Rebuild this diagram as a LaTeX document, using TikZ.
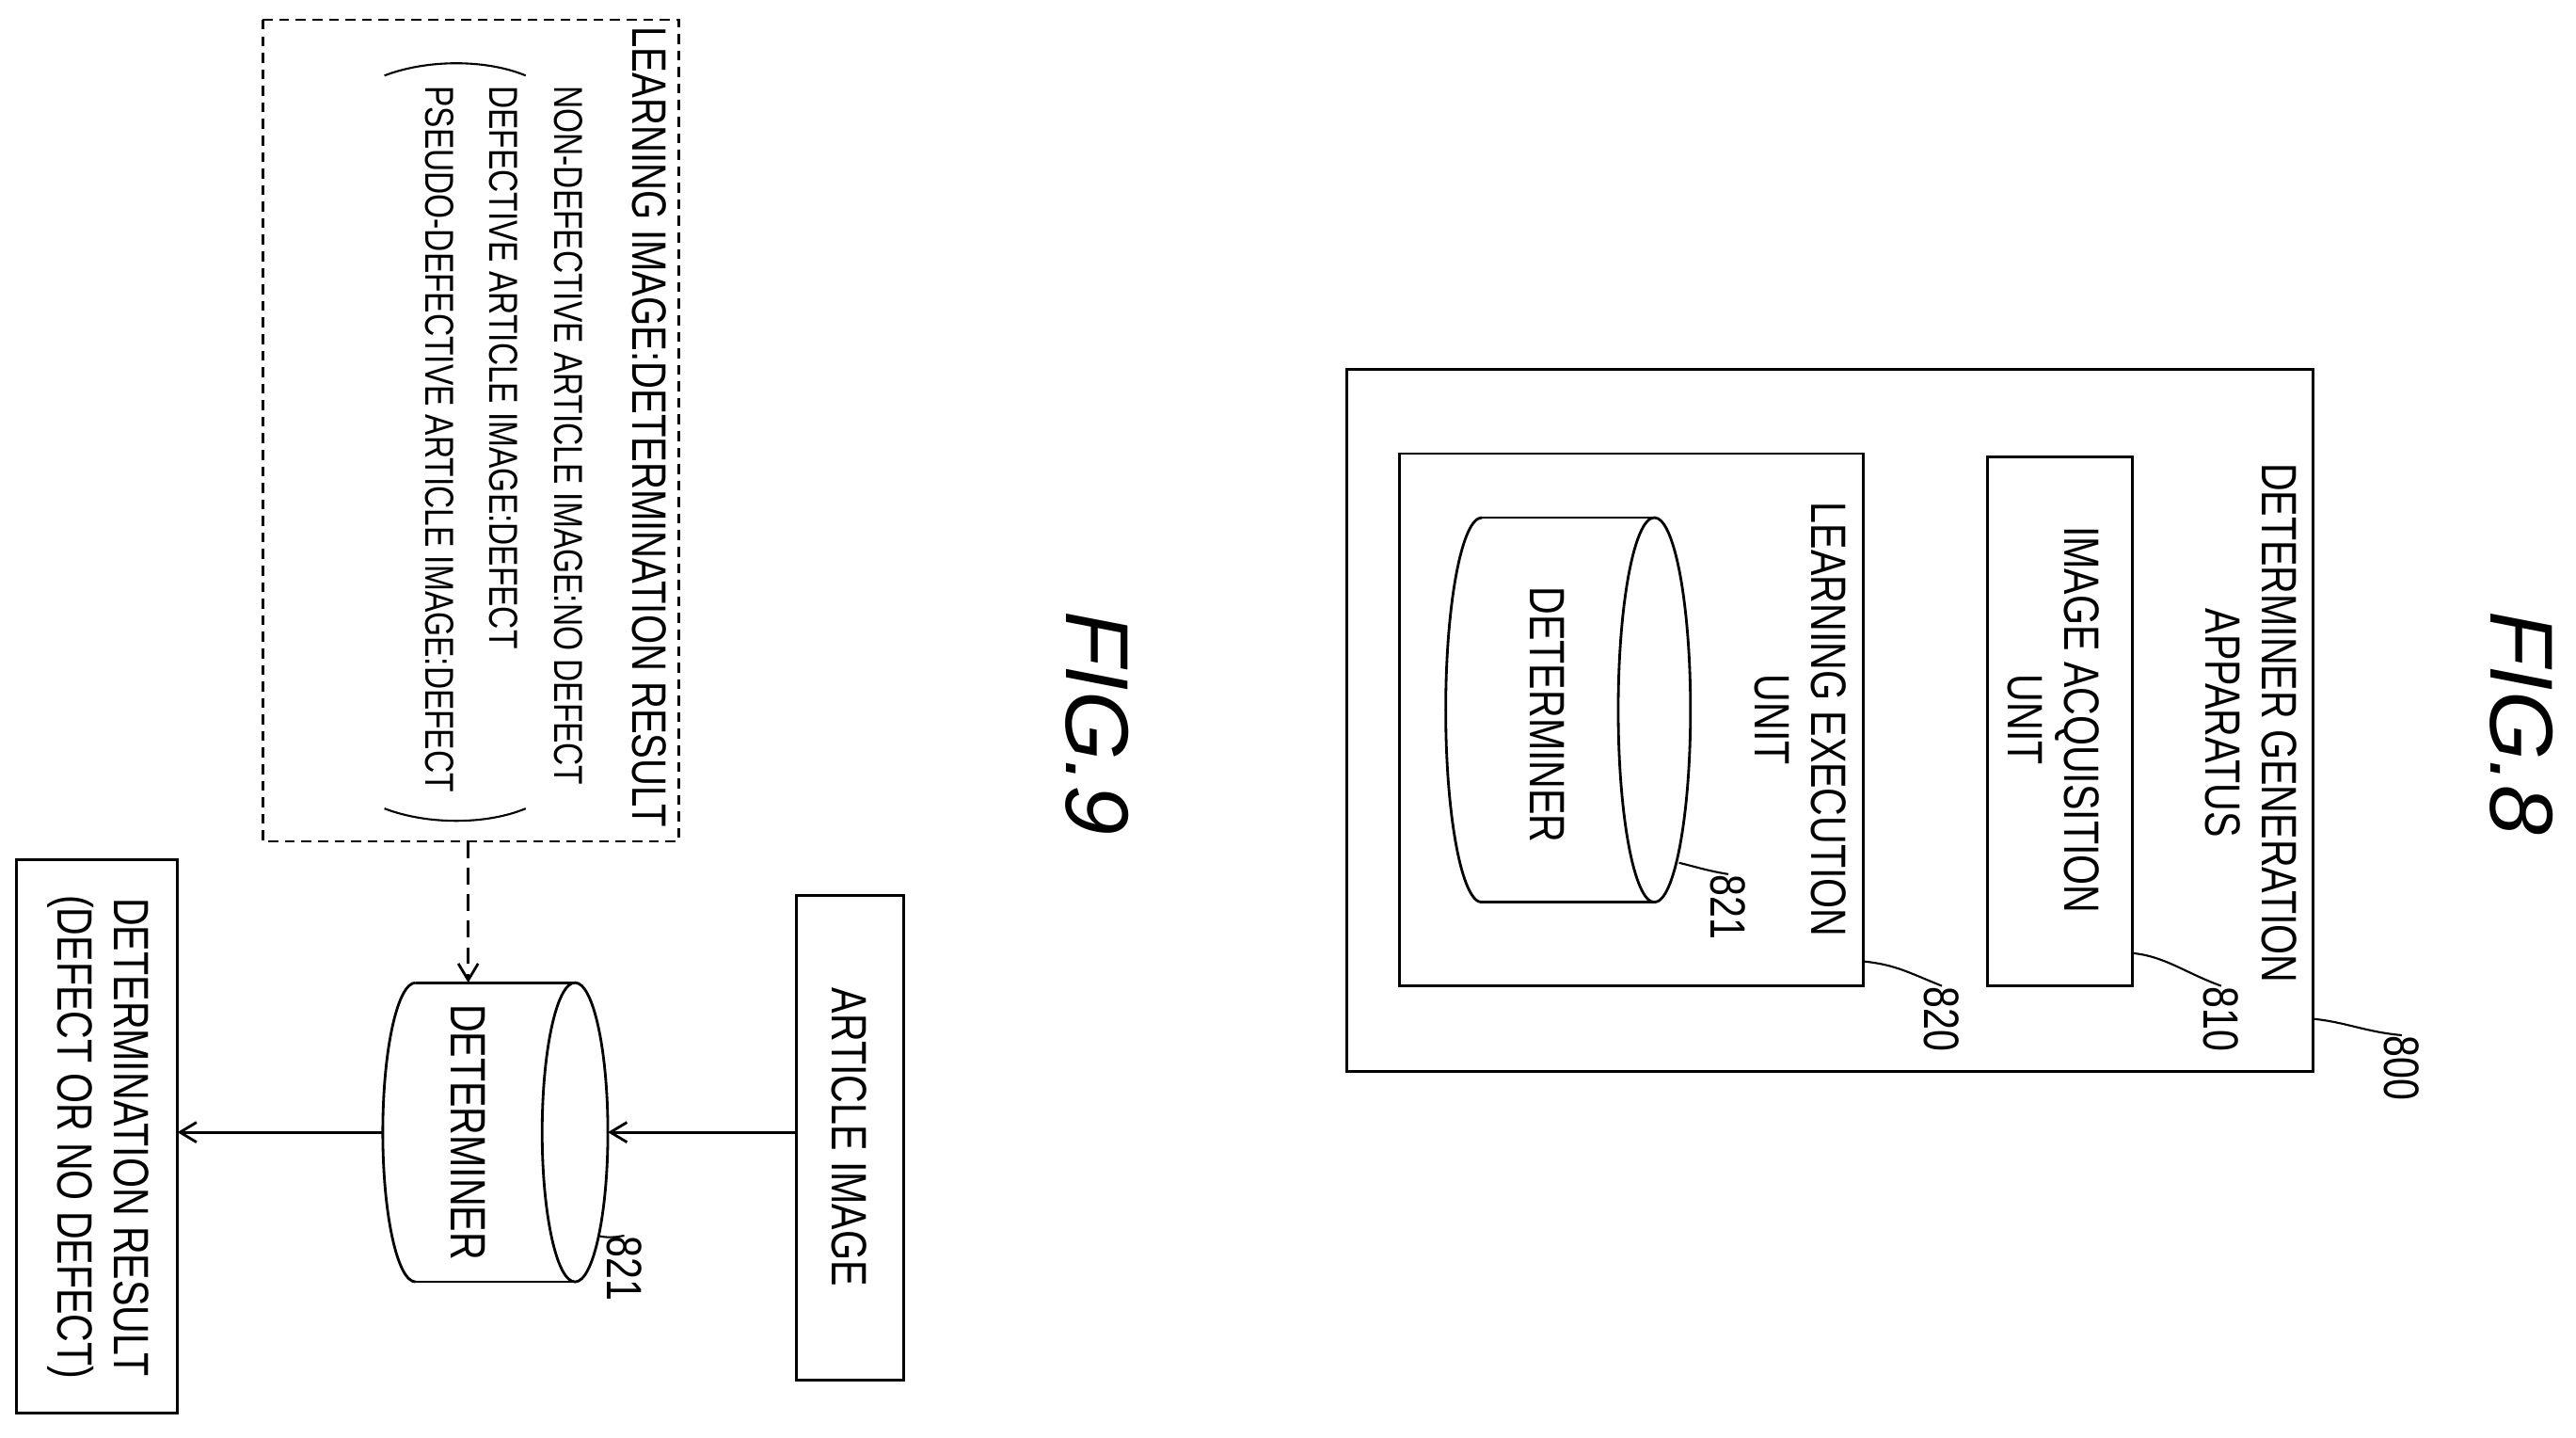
\documentclass[tikz,border=0pt]{standalone}
\usepackage{fontspec}
\setmainfont{Liberation Sans}[FakeStretch=0.78]
\newfontfamily\figfont{Liberation Sans}
\usetikzlibrary{arrows.meta}
\begin{document}
\begin{tikzpicture}[x=0.01746cm,y=-0.01746cm,
  box/.style={draw,line width=0.8pt},
  txt/.style={rotate=-90,align=center,font=\fontsize{15}{17}\selectfont,inner sep=0pt},
  lst/.style={rotate=-90,align=left,font=\fontsize{12.2}{19.5}\selectfont,inner sep=0pt},
  lbl/.style={rotate=-90,font=\fontsize{15}{17}\selectfont,inner sep=0pt},
  lead/.style={line width=0.6pt},
  arr/.style={line width=0.8pt,-{Straight Barb[length=5pt,width=6pt]}},
  title/.style={rotate=-90,font=\figfont\itshape\fontsize{27}{27}\selectfont,inner sep=0pt}]
\useasboundingbox (0,0) rectangle (1568,875);
% ---------- FIG. 8 ----------
\draw[box] (820,225) rectangle (1408,652);
\draw[box] (1210,278) rectangle (1298,600);
\draw[box] (852,276) rectangle (1134,600);
\node[txt] (appt) at (1370,440) {DETERMINER GENERATION\\APPARATUS};
\node[txt] (acqt) at (1250,438) {IMAGE ACQUISITION\\UNIT};
\node[txt] (lrnt) at (1096,438) {LEARNING EXECUTION\\UNIT};
% cylinder 821 (fig 8)
\draw[line width=0.8pt] (902,315) -- (1007,315) (902,549) -- (1007,549);
\draw[line width=0.8pt] (902,315) arc[start angle=90,end angle=270,x radius=0.384cm,y radius=2.043cm];
\draw[line width=0.8pt] (1007,432) ellipse[x radius=0.384cm,y radius=2.043cm];
\node[txt] (detA) at (942,435) {DETERMINER};
\coordinate (cylA) at (1022,525);
% labels
\node[lbl] (l800) at (1462,650) {800};
\node[lbl] (l810) at (1352,620) {810};
\node[lbl] (l820) at (1182,620) {820};
\node[lbl] (l821a) at (1052,552) {821};
\draw[lead] (1408,620) .. controls (1428,622) and (1440,628) .. (l800.west);
\draw[lead] (1298,580) .. controls (1318,582) and (1330,592) .. (l810.west);
\draw[lead] (1134,585) .. controls (1154,587) and (1162,592) .. (l820.west);
\draw[lead] (cylA) .. controls (1034,528) and (1040,530) .. (l821a.west);
\node[title] (fig8) at (1535,440) {FIG.8};
% ---------- FIG. 9 ----------
\draw[box,dashed,dash pattern=on 3pt off 2pt] (160,12) rectangle (413,512);
\node[lst,anchor=west,font=\fontsize{14.6}{17}\selectfont] (l1) at (395,16) {LEARNING IMAGE:DETERMINATION RESULT};
\node[lst,anchor=north west] (l2) at (355,52) {NON-DEFECTIVE ARTICLE IMAGE:NO DEFECT\\DEFECTIVE ARTICLE IMAGE:DEFECT\\PSEUDO-DEFECTIVE ARTICLE IMAGE:DEFECT};
\draw[line width=0.6pt] (234,46) .. controls (260,36) and (296,36) .. (320,46);
\draw[line width=0.6pt] (234,492) .. controls (260,502) and (296,502) .. (320,492);
\coordinate (lbox) at (285,512);
% cylinder 821 (fig 9)
\draw[line width=0.8pt] (253,598) -- (350,598) (253,780) -- (350,780);
\draw[line width=0.8pt] (253,598) arc[start angle=90,end angle=270,x radius=0.349cm,y radius=1.589cm];
\draw[line width=0.8pt] (350,689) ellipse[x radius=0.349cm,y radius=1.589cm];
\node[txt] (detB) at (285,689) {DETERMINER};
\coordinate (cylBtop) at (285,598);
\coordinate (cylBright) at (370,689);
\coordinate (cylBleft) at (233,689);
\coordinate (cylBlead) at (364,752);
\draw[box] (485,545) rectangle (550,840);
\node[txt] (art) at (517,692) {ARTICLE IMAGE};
\coordinate (artL) at (485,689);
\draw[box] (10,523) rectangle (108,860);
\node[txt] (res) at (60,692) {DETERMINATION RESULT\\(DEFECT OR NO DEFECT)};
\coordinate (resR) at (108,689);
\draw[arr,dashed,dash pattern=on 5pt off 3pt] (lbox) -- (cylBtop);
\draw[arr] (artL) -- (cylBright);
\draw[arr] (cylBleft) -- (resR);
\node[lbl] (l821b) at (380,772) {821};
\draw[lead] (cylBlead) .. controls (372,754) and (378,752) .. (l821b.west);
\node[title] (fig9) at (668,440) {FIG.9};
\end{tikzpicture}
\end{document}
